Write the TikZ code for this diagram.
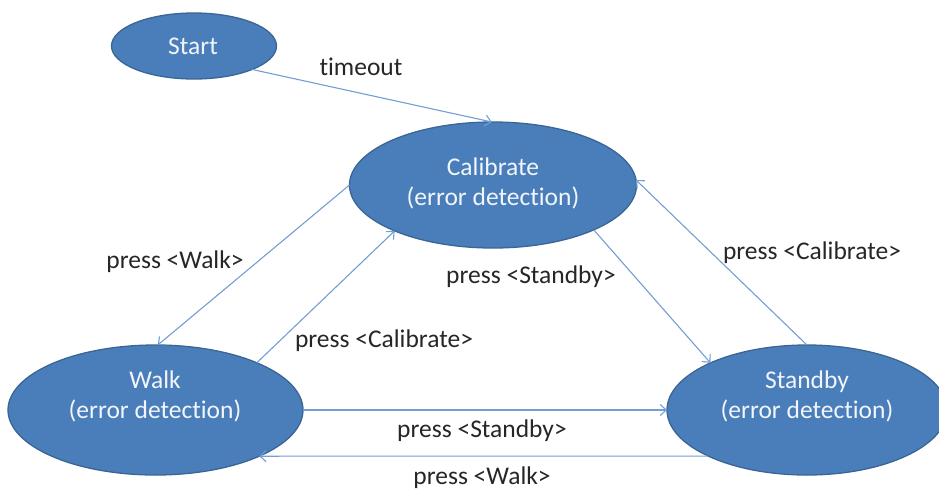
\documentclass[tikz,border=0pt]{standalone}
\usepackage{fontspec}
\setmainfont{Carlito}[Ligatures={NoCommon}]
\usetikzlibrary{shapes.geometric,arrows.meta}
\definecolor{statefill}{HTML}{4A7EBB}
\definecolor{statedraw}{HTML}{3A6594}
\definecolor{edgecol}{HTML}{729ED4}
\definecolor{labcol}{HTML}{262626}
\definecolor{stext}{HTML}{F2F5FA}
\tikzset{
  state/.style={ellipse, fill=statefill, draw=statedraw, line width=1.3pt, inner sep=0pt, outer sep=0pt},
  statetext/.style={text=stext, font=\fontsize{25.5}{30}\selectfont, align=center, inner sep=0pt},
  edgelab/.style={text=labcol, font=\fontsize{25.5}{30}\selectfont, inner sep=0pt},
  conn/.style={draw=edgecol, line width=1.1pt, -{Straight Barb[length=6pt,width=11pt]}}
}
\begin{document}
\begin{tikzpicture}[x=1pt,y=-1pt]
\useasboundingbox (0,0) rectangle (939,491);
\begin{scope}
\clip (0,0) rectangle (939,491);
\node[state, minimum width=165pt, minimum height=66pt] (start) at (194,46) {};
\node[state, minimum width=287pt, minimum height=126pt] (cal) at (493,185) {};
\node[state, minimum width=295pt, minimum height=130pt] (walk) at (155.5,410) {};
\node[state, minimum width=280pt, minimum height=130pt] (stby) at (807,410) {};
\end{scope}
\node[statetext] (startt) at (193,46) {Start};
\node[statetext] (calt) at (493,183) {Calibrate\\(error detection)};
\node[statetext] (walkt) at (155,396) {Walk\\(error detection)};
\node[statetext] (stbyt) at (807,396) {Standby\\(error detection)};

\draw[conn] (start.-22) -- (cal.91);
\draw[conn] (cal.180) -- (walk.88);
\draw[conn] (walk.25) -- (cal.205);
\draw[conn] (cal.-24) -- (stby.154);
\draw[conn] (stby.90) -- (cal.2);
\draw[conn] (walk.0) -- (stby.180);
\draw[conn] (stby.205) -- (walk.-24);

\node[edgelab] (l1) at (361,67) {timeout};
\node[edgelab] (l2) at (175,262) {press <Walk>};
\node[edgelab] (l3) at (384,341) {press <Calibrate>};
\node[edgelab] (l4) at (531,277) {press <Standby>};
\node[edgelab] (l5) at (812,253) {press <Calibrate>};
\node[edgelab] (l6) at (482,431) {press <Standby>};
\node[edgelab] (l7) at (482,478) {press <Walk>};
\end{tikzpicture}
\end{document}
